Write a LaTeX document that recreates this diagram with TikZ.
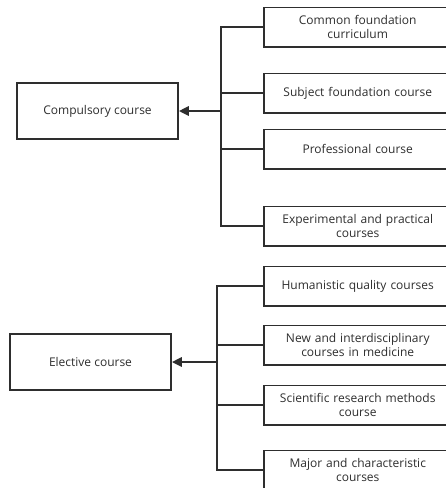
\documentclass[tikz,border=0pt]{standalone}
\usepackage{fontspec}
\setmainfont{Open Sans}
\usetikzlibrary{arrows.meta}
\definecolor{ink}{HTML}{2E2E2E}
\begin{document}
\begin{tikzpicture}[x=1pt,y=-1pt,
  box/.style={draw=ink,line width=1.5pt,rectangle,inner sep=2pt,text=ink,align=center,font=\fontsize{12}{14}\selectfont},
  rbox/.style={box,anchor=west,minimum width=188pt,minimum height=39.5pt,text width=180pt},
  lbox/.style={box,minimum width=161pt,minimum height=56pt},
  link/.style={draw=ink,line width=1.5pt},
  main/.style={draw=ink,line width=2.5pt,-{Triangle[length=10pt,width=9pt]}}]
\useasboundingbox (0,0) rectangle (446,488);
\clip (0,0) rectangle (446,488);
\fill[white] (0,0) rectangle (446,488);
% top group
\node[lbox] (c) at (97.5,111) {Compulsory course};
\node[rbox] (a1) at (263,27) {Common foundation\\curriculum};
\node[rbox] (a2) at (263,93) {Subject foundation course};
\node[rbox] (a3) at (263,149) {Professional course};
\node[rbox] (a4) at (263,226) {Experimental and practical\\courses};
\coordinate (j1) at (221,111);
\draw[link] (a1.west) -| (j1) |- (a4.west);
\draw[link] (a2.west) -- (a2.west -| j1);
\draw[link] (a3.west) -- (a3.west -| j1);
\draw[main] (j1) -- (c.east);
% bottom group
\node[lbox] (e) at (90.5,362) {Elective course};
\node[rbox] (b1) at (263,286) {Humanistic quality courses};
\node[rbox] (b2) at (263,345) {New and interdisciplinary\\courses in medicine};
\node[rbox] (b3) at (263,405) {Scientific research methods\\course};
\node[rbox] (b4) at (263,470) {Major and characteristic\\courses};
\coordinate (j2) at (217,362);
\draw[link] (b1.west) -| (j2) |- (b4.west);
\draw[link] (b2.west) -- (b2.west -| j2);
\draw[link] (b3.west) -- (b3.west -| j2);
\draw[main] (j2) -- (e.east);
\end{tikzpicture}
\end{document}
